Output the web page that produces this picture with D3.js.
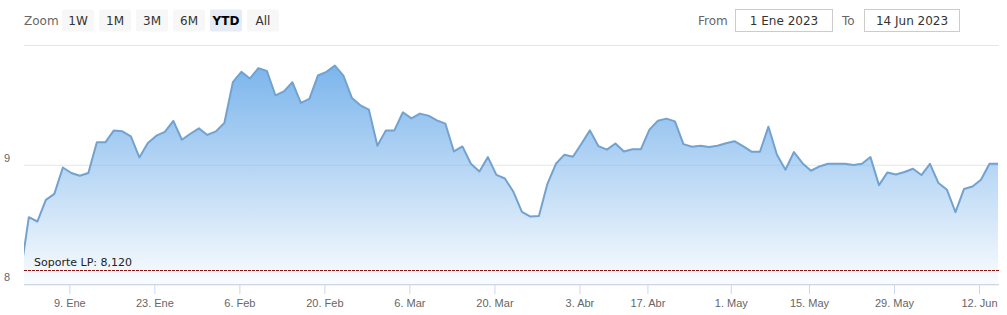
<!DOCTYPE html>
<html>
<head>
<meta charset="utf-8">
<script src="https://cdn.jsdelivr.net/npm/d3@7"></script>
<style>
  html, body { margin: 0; padding: 0; background: #fff; }
  svg { display: block; font-family: "DejaVu Sans", Verdana, sans-serif; }
</style>
</head>
<body>
<svg id="chart" width="1007" height="315"></svg>
<script>
// ---- DATA ----
const dates = [
  "2022-12-30",
  "2023-01-02","2023-01-03","2023-01-04","2023-01-05","2023-01-06","2023-01-09","2023-01-10","2023-01-11","2023-01-12","2023-01-13",
  "2023-01-16","2023-01-17","2023-01-18","2023-01-19","2023-01-20","2023-01-23","2023-01-24","2023-01-25","2023-01-26","2023-01-27",
  "2023-01-30","2023-01-31",
  "2023-02-01","2023-02-02","2023-02-03","2023-02-06","2023-02-07","2023-02-08","2023-02-09","2023-02-10","2023-02-13","2023-02-14",
  "2023-02-15","2023-02-16","2023-02-17","2023-02-20","2023-02-21","2023-02-22","2023-02-23","2023-02-24","2023-02-27","2023-02-28",
  "2023-03-01","2023-03-02","2023-03-03","2023-03-06","2023-03-07","2023-03-08","2023-03-09","2023-03-10","2023-03-13","2023-03-14",
  "2023-03-15","2023-03-16","2023-03-17","2023-03-20","2023-03-21","2023-03-22","2023-03-23","2023-03-24","2023-03-27","2023-03-28",
  "2023-03-29","2023-03-30","2023-03-31",
  "2023-04-03","2023-04-04","2023-04-05","2023-04-06","2023-04-11","2023-04-12","2023-04-13","2023-04-14","2023-04-17","2023-04-18",
  "2023-04-19","2023-04-20","2023-04-21","2023-04-24","2023-04-25","2023-04-26","2023-04-27","2023-04-28",
  "2023-05-02","2023-05-03","2023-05-04","2023-05-05","2023-05-08","2023-05-09","2023-05-10","2023-05-11","2023-05-12","2023-05-15",
  "2023-05-16","2023-05-17","2023-05-18","2023-05-19","2023-05-22","2023-05-23","2023-05-24","2023-05-25","2023-05-26","2023-05-29",
  "2023-05-30","2023-05-31",
  "2023-06-01","2023-06-02","2023-06-05","2023-06-06","2023-06-07","2023-06-08","2023-06-09","2023-06-12","2023-06-13","2023-06-14"
];
const prices = [
  8.08,
  8.562, 8.526, 8.707, 8.757, 8.977, 8.931, 8.908, 8.931, 9.187, 9.187,
  9.287, 9.279, 9.237, 9.061, 9.182, 9.243, 9.274, 9.366, 9.209, 9.259,
  9.304, 9.249,
  9.279, 9.349, 9.689, 9.776, 9.720, 9.806, 9.784, 9.580, 9.613, 9.689,
  9.516, 9.550, 9.745, 9.776, 9.828, 9.745, 9.558, 9.496, 9.460, 9.159,
  9.287, 9.287, 9.438, 9.387, 9.427, 9.410, 9.371, 9.343, 9.111, 9.153,
  9.008, 8.944, 9.064, 8.916, 8.885, 8.774, 8.607, 8.567, 8.573, 8.841,
  9.008, 9.084, 9.067,
  9.176, 9.287, 9.155, 9.126, 9.178, 9.110, 9.130, 9.130, 9.293, 9.368,
  9.385, 9.362, 9.172, 9.151, 9.159, 9.149, 9.159, 9.180,
  9.197, 9.155, 9.109, 9.109, 9.318, 9.084, 8.958, 9.106, 9.013, 8.950,
  8.986, 9.008, 9.008, 9.008, 8.997, 9.008, 9.064, 8.830, 8.936, 8.919,
  8.939, 8.967,
  8.914, 9.008, 8.847, 8.791, 8.604, 8.797, 8.818, 8.874, 9.008, 9.008
];
const xTickDates = ["2023-01-09","2023-01-23","2023-02-06","2023-02-20","2023-03-06","2023-03-20","2023-04-03","2023-04-17","2023-05-01","2023-05-15","2023-05-29","2023-06-12"];
const xTickLabels = ["9. Ene","23. Ene","6. Feb","20. Feb","6. Mar","20. Mar","3. Abr","17. Abr","1. May","15. May","29. May","12. Jun"];
const yTickValues = [8, 9, 10];
const yTickLabels = ["8", "9", ""];
const supportValue = 8.12;
const supportLabel = "Soporte LP: 8,120";
const zoomButtons = ["1W", "1M", "3M", "6M", "YTD", "All"];
const selectedButton = "YTD";
const rangeFrom = "1 Ene 2023";
const rangeTo = "14 Jun 2023";
const rangeStartDate = "2023-01-01";

// ---- LAYOUT ----
const svg = d3.select("#chart");
const plot = { left: 24, right: 999, top: 45, bottom: 284.5 };

// ordinal positions: Dec 30 is position -1, Jan 2 is 0, ...
const pos = dates.map((d, i) => i - 1);
const CLOSE_H = 17;
const ts = dates.map(d => Date.parse(d + "T00:00:00Z") + CLOSE_H * 3600e3);
function ordinalPos(dateStr) {
  const t = Date.parse(dateStr + "T00:00:00Z");
  for (let i = 0; i < ts.length - 1; i++) {
    if (ts[i] <= t && t < ts[i + 1]) return pos[i] + (t - ts[i]) / (ts[i + 1] - ts[i]);
  }
  return pos[pos.length - 1];
}

const x = d3.scaleLinear()
  .domain([ordinalPos(rangeStartDate), pos[pos.length - 1] + 0.12])
  .range([plot.left, plot.right]);
const y = d3.scaleLinear().domain([8, 10]).range([plot.bottom, plot.top]);

const defs = svg.append("defs");
defs.append("clipPath").attr("id", "plotClip")
  .append("rect")
  .attr("x", plot.left).attr("y", plot.top - 5)
  .attr("width", plot.right - plot.left).attr("height", plot.bottom - plot.top + 5);

const grad = defs.append("linearGradient").attr("id", "areaGrad")
  .attr("gradientUnits", "userSpaceOnUse")
  .attr("x1", 0).attr("x2", 0)
  .attr("y1", y(d3.max(prices))).attr("y2", plot.bottom);
grad.append("stop").attr("offset", 0).attr("stop-color", "#7cb5ec").attr("stop-opacity", 1);
grad.append("stop").attr("offset", 1).attr("stop-color", "#7cb5ec").attr("stop-opacity", 0.04);

// grid lines
const yAxis = d3.axisLeft(y).tickValues(yTickValues)
  .tickSize(-(plot.right - plot.left)).tickFormat((d, i) => yTickLabels[i]);
const gy = svg.append("g").attr("transform", `translate(${plot.left},0)`).call(yAxis);
gy.select(".domain").remove();
gy.selectAll(".tick line").attr("stroke", "#e6e6e6").attr("stroke-width", 1);
gy.selectAll(".tick text")
  .attr("x", -plot.left + 4).attr("dy", "-0.32em")
  .attr("text-anchor", "start")
  .attr("fill", "#666").style("font-size", "11px");

// area and line
const data = prices.map((v, i) => ({ p: pos[i], v }));
const area = d3.area().x(d => x(d.p)).y0(plot.bottom).y1(d => y(d.v));
const line = d3.line().x(d => x(d.p)).y(d => y(d.v));
const g = svg.append("g").attr("clip-path", "url(#plotClip)");
g.append("path").datum(data).attr("d", area).attr("fill", "url(#areaGrad)");
g.append("path").datum(data).attr("d", line)
  .attr("fill", "none").attr("stroke", "#72a2d0").attr("stroke-width", 2)
  .attr("stroke-linejoin", "round");

// x axis
const xTickPos = xTickDates.map(ordinalPos);
const xAxis = d3.axisBottom(x).tickValues(xTickPos)
  .tickSize(10).tickPadding(5)
  .tickFormat((d, i) => xTickLabels[i]);
const gx = svg.append("g").attr("transform", `translate(0,${plot.bottom - 0.5})`).call(xAxis);
gx.select(".domain").attr("d", `M${plot.left},0.5H${plot.right}`).attr("stroke", "#ccd6eb");
gx.selectAll(".tick line").attr("stroke", "#ccd6eb");
gx.selectAll(".tick text").attr("fill", "#666").style("font-size", "11px");

// support plot line
svg.append("line")
  .attr("x1", plot.left).attr("x2", plot.right)
  .attr("y1", Math.round(y(supportValue)) + 0.5).attr("y2", Math.round(y(supportValue)) + 0.5)
  .attr("stroke", "#8b1010").attr("stroke-width", 1).attr("stroke-dasharray", "3,1");
svg.append("text")
  .attr("x", plot.left + 10).attr("y", y(supportValue) - 4)
  .attr("fill", "#222").style("font-size", "11px")
  .text(supportLabel);

// range selector
svg.append("text").attr("x", 24).attr("y", 24.5).attr("fill", "#666")
  .style("font-size", "12px").text("Zoom");
const btn = svg.append("g").selectAll("g").data(zoomButtons).join("g")
  .attr("transform", (d, i) => `translate(${62 + i * 37},9.5)`);
btn.append("rect").attr("width", 32).attr("height", 22).attr("rx", 2)
  .attr("fill", d => d === selectedButton ? "#e6ebf5" : "#f7f7f7");
btn.append("text").attr("x", 16).attr("y", 15.5).attr("text-anchor", "middle")
  .attr("fill", d => d === selectedButton ? "#000" : "#333")
  .style("font-size", "12px")
  .style("font-weight", d => d === selectedButton ? "bold" : "normal")
  .text(d => d);

svg.append("text").attr("x", 698).attr("y", 24.5).attr("fill", "#666")
  .style("font-size", "12px").text("From");
svg.append("rect").attr("x", 735.5).attr("y", 9.5).attr("width", 97).attr("height", 22)
  .attr("fill", "#fff").attr("stroke", "#cccccc");
svg.append("text").attr("x", 784).attr("y", 24.5).attr("text-anchor", "middle")
  .attr("fill", "#333").style("font-size", "12px").text(rangeFrom);
svg.append("text").attr("x", 842).attr("y", 24.5).attr("fill", "#666")
  .style("font-size", "12px").text("To");
svg.append("rect").attr("x", 864.5).attr("y", 9.5).attr("width", 95).attr("height", 22)
  .attr("fill", "#fff").attr("stroke", "#cccccc");
svg.append("text").attr("x", 912).attr("y", 24.5).attr("text-anchor", "middle")
  .attr("fill", "#333").style("font-size", "12px").text(rangeTo);
</script>
</body>
</html>
